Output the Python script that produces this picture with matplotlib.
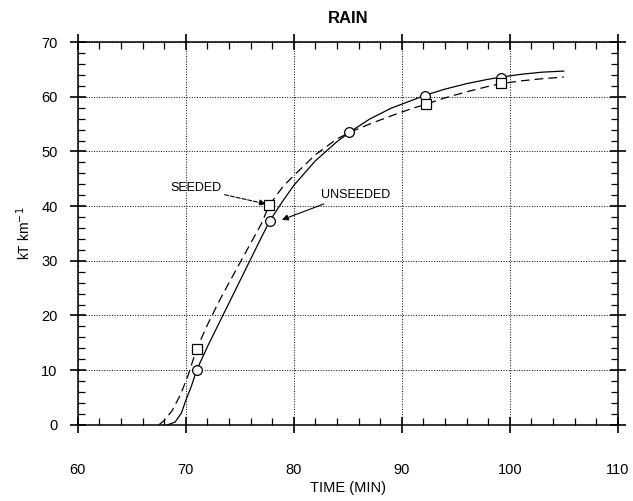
import matplotlib
matplotlib.use("Agg")
import matplotlib.pyplot as plt
from matplotlib.ticker import MultipleLocator

plt.rcParams['font.family'] = ['Liberation Sans', 'DejaVu Sans']

# unseeded curve (solid) and its marked points
unseeded_t = [68.3, 69.0, 69.6, 70.0, 70.5, 71.0, 72.0, 73.0, 74.0, 75.0, 76.0, 77.0, 77.8,
              79.0, 80.0, 82.0, 84.0, 85.3, 87.0, 89.0, 91.0, 92.2, 94.0, 96.0, 98.0, 99.2,
              101.0, 103.0, 105.0]
unseeded_v = [0.0, 0.5, 2.2, 4.5, 7.0, 10.0, 14.3, 18.3, 22.3, 26.3, 30.3, 34.3, 37.4,
              41.0, 43.8, 48.3, 51.8, 53.7, 55.9, 57.9, 59.4, 60.3, 61.4, 62.4, 63.2, 63.6,
              64.1, 64.5, 64.7]
unseeded_pt_t = [71.0, 77.8, 85.1, 92.1, 99.2]
unseeded_pt_v = [10.0, 37.3, 53.6, 60.2, 63.4]

# seeded curve (dashed) and its marked points
seeded_t = [67.5, 68.0, 68.7, 69.5, 70.2, 71.0, 72.0, 73.0, 74.0, 75.0, 76.0, 77.0, 77.7,
            79.0, 80.0, 82.0, 84.0, 85.3, 87.0, 89.0, 91.0, 92.2, 94.0, 96.0, 98.0, 99.2,
            101.0, 103.0, 105.0]
seeded_v = [0.0, 0.8, 2.5, 5.5, 9.0, 13.9, 18.3, 22.3, 26.0, 29.6, 33.2, 36.8, 40.1,
            43.6, 45.6, 49.4, 52.3, 53.6, 55.0, 56.5, 57.9, 58.6, 59.8, 60.9, 61.9, 62.4,
            62.9, 63.3, 63.6]
seeded_pt_t = [71.0, 77.7, 92.2, 99.2]
seeded_pt_v = [13.9, 40.2, 58.6, 62.6]

fig = plt.figure(figsize=(6.33, 5.01), dpi=100)
ax = fig.add_axes([0.123, 0.152, 0.853, 0.764])

ax.plot(unseeded_t, unseeded_v, color='black', lw=0.9)
ax.plot(seeded_t, seeded_v, color='black', lw=0.9, dashes=(7, 4))
ax.plot(unseeded_pt_t, unseeded_pt_v, 'o', ms=7, mfc='white', mec='black', mew=0.9)
ax.plot(seeded_pt_t, seeded_pt_v, 's', ms=6.5, mfc='white', mec='black', mew=0.9)

ax.set_xlim(60, 110)
ax.set_ylim(0, 70)
ax.xaxis.set_major_locator(MultipleLocator(10))
ax.xaxis.set_minor_locator(MultipleLocator(2))
ax.yaxis.set_major_locator(MultipleLocator(10))
ax.yaxis.set_minor_locator(MultipleLocator(2))
ax.tick_params(which='major', direction='inout', length=11, width=1.2,
               top=True, right=True, labelsize=10.5, colors='black')
ax.tick_params(which='minor', direction='in', length=5, width=0.9, top=True, right=True)
ax.tick_params(axis='x', which='major', pad=22)
ax.tick_params(axis='y', which='major', pad=9)
ax.grid(True, which='major', ls=':', color='black', lw=0.7)
for s in ax.spines.values():
    s.set_linewidth(1.1)

ax.set_title('RAIN', fontsize=12, fontweight='bold', pad=14)
ax.set_xlabel('TIME (MIN)', fontsize=10.5, labelpad=3)
ax.set_ylabel('kT km$^{-1}$', fontsize=10, labelpad=6)

ax.annotate('SEEDED', xy=(77.4, 40.4), xytext=(68.6, 43.3), fontsize=9,
            va='center', ha='left',
            arrowprops=dict(arrowstyle='-|>', color='black', lw=0.8, ls='--',
                            shrinkA=0, shrinkB=0, mutation_scale=9,
                            relpos=(1.0, 0.0)))
ax.annotate('UNSEEDED', xy=(78.9, 37.5), xytext=(82.5, 42.0), fontsize=9,
            va='center', ha='left',
            arrowprops=dict(arrowstyle='-|>', color='black', lw=0.8,
                            shrinkA=0, shrinkB=0, mutation_scale=9,
                            relpos=(0.15, 0.0)))

fig.savefig('out.png', dpi=100)
